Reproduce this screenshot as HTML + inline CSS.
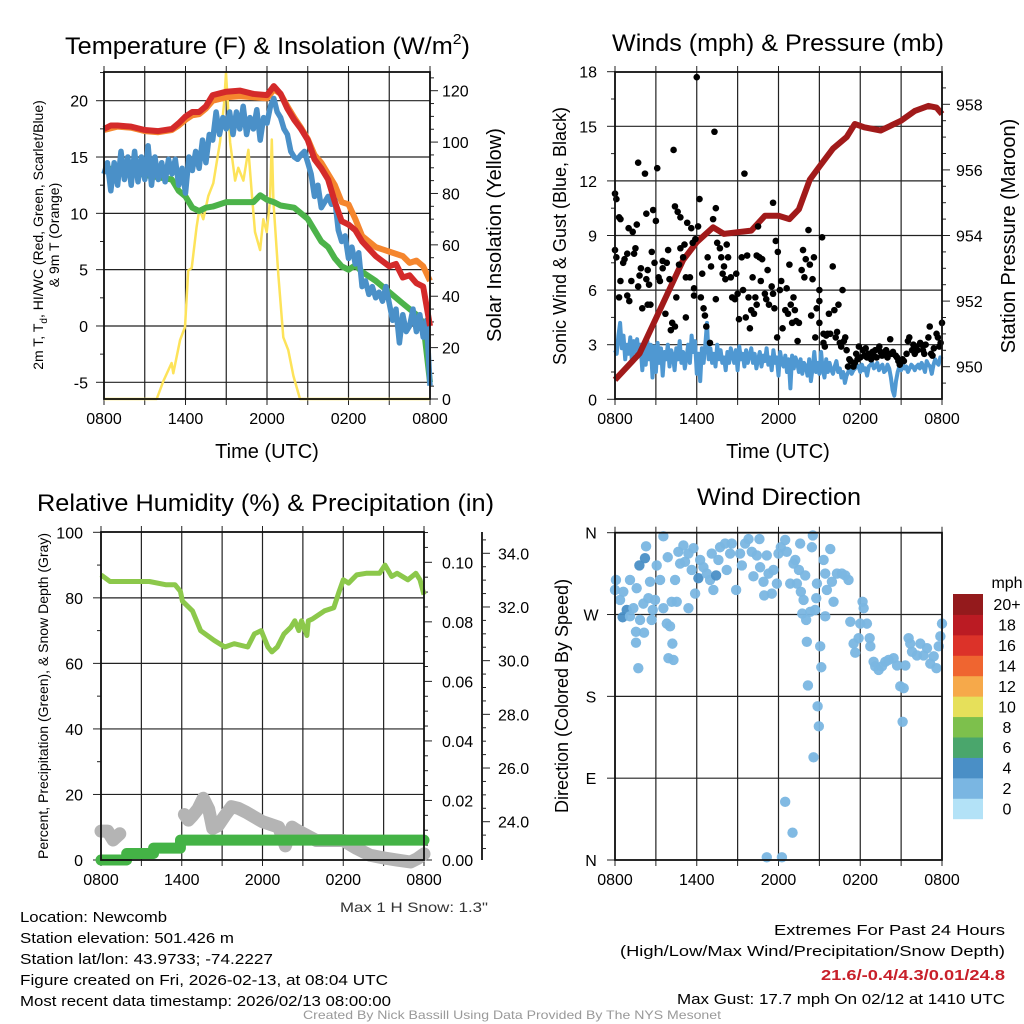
<!DOCTYPE html>
<html><head><meta charset="utf-8">
<style>
html,body{margin:0;padding:0;background:#fff;}
svg{display:block;font-family:"Liberation Sans",Arial,sans-serif;}
</style></head>
<body>
<svg id="fig" width="1024" height="1024" viewBox="0 0 1024 1024" xmlns="http://www.w3.org/2000/svg">
<rect x="0" y="0" width="1024" height="1024" fill="#fff"/>
<g id="p1"></g>
<g id="p2"></g>
<g id="p3"></g>
<g id="p4"></g>
<text x="65" y="54" font-size="24" textLength="405" lengthAdjust="spacingAndGlyphs">Temperature (F) &amp; Insolation (W/m<tspan font-size="15" dy="-10">2</tspan><tspan dy="10">)</tspan></text>
<text x="612" y="51" font-size="24" textLength="332" lengthAdjust="spacingAndGlyphs">Winds (mph) &amp; Pressure (mb)</text>
<text x="37" y="511" font-size="24" textLength="457" lengthAdjust="spacingAndGlyphs">Relative Humidity (%) &amp; Precipitation (in)</text>
<text x="697" y="505" font-size="24" textLength="164" lengthAdjust="spacingAndGlyphs">Wind Direction</text>
<g font-size="15">
<text x="20" y="922" textLength="147" lengthAdjust="spacingAndGlyphs">Location: Newcomb</text>
<text x="20" y="943" textLength="214" lengthAdjust="spacingAndGlyphs">Station elevation: 501.426 m</text>
<text x="20" y="964" textLength="253" lengthAdjust="spacingAndGlyphs">Station lat/lon: 43.9733; -74.2227</text>
<text x="20" y="985" textLength="368" lengthAdjust="spacingAndGlyphs">Figure created on Fri, 2026-02-13, at 08:04 UTC</text>
<text x="20" y="1006" textLength="371" lengthAdjust="spacingAndGlyphs">Most recent data timestamp: 2026/02/13 08:00:00</text>
</g>
<g font-size="15">
<text x="774" y="935" textLength="231" lengthAdjust="spacingAndGlyphs">Extremes For Past 24 Hours</text>
<text x="620" y="956" textLength="385" lengthAdjust="spacingAndGlyphs">(High/Low/Max Wind/Precipitation/Snow Depth)</text>
<text x="821" y="980" font-weight="bold" fill="#c8202a" textLength="184" lengthAdjust="spacingAndGlyphs">21.6/-0.4/4.3/0.01/24.8</text>
<text x="677" y="1004" textLength="328" lengthAdjust="spacingAndGlyphs">Max Gust: 17.7 mph On 02/12 at 1410 UTC</text>
</g>
<text x="340" y="912" font-size="14" fill="#333" textLength="148" lengthAdjust="spacingAndGlyphs">Max 1 H Snow: 1.3"</text>
<text x="303" y="1019" font-size="12" fill="#999" textLength="418" lengthAdjust="spacingAndGlyphs">Created By Nick Bassill Using Data Provided By The NYS Mesonet</text>
</svg>
<script>
// ---------- DATA ----------
const timeTicks = ["0800","1400","2000","0200","0800"];
// Panel 1 (hours since 0800)
const tRed = [0,0.5,1,2,3,4,5,5.5,6,6.5,7,7.5,8,9,10,11,12,12.5,13,13.5,14,14.5,15,15.5,16,16.5,17,17.5,18,18.5,19,20,21,21.5,22,22.5,23,23.5,24];
const tempRed = [17.5,17.8,17.8,17.7,17.4,17.3,17.5,18,18.6,19,19,19.5,20.5,20.8,20.9,20.6,20.5,21.3,20.6,19.3,18.3,17.5,16.5,14.8,14,13,11,9.3,9,8.5,7.5,6.2,5.3,5.5,4.3,4.5,3.8,3.5,0];
const tOrange = [0,1,2,3,4,5,5.5,6,6.5,7,7.5,8,9,10,11,12,12.5,13,13.5,14,14.5,15,15.5,16,16.5,17,17.5,18,18.5,19,20,21,22,22.5,23,23.5,24];
const tempOrange = [17.4,17.7,17.6,17.3,17.2,17.4,17.8,18.3,18.7,18.8,19.3,20,20.3,20.4,20.3,20.2,21,20.6,19.5,18.5,17.6,16.6,15.2,14.5,13.5,12.5,11,10.8,9.5,8,7,6.6,6.2,5.6,5.8,5.3,4];
const tGreen = [0,1,2,3,4,5,5.5,6,6.5,7,7.5,8,9,10,11,11.5,12,12.5,13,14,14.5,15,15.5,16,16.5,17,17.5,18,18.5,19,20,21,22,22.5,23,23.5,24];
const tempGreen = [14,13.9,13.7,13.4,13.2,13,12,11.5,10.5,10.2,10.5,10.6,11,11,11,11.6,11.2,11,10.7,10.5,10,9.5,8.5,7.5,7,6,5.3,5,5.4,4.8,4,3,2,1.5,1,0.3,-5];
const tempBlue = [13.5,14.5,12.0,14.5, 12.5,15.5,13.0,15.0, 12.5,15.5,12.8,15.0, 13.0,16.0,12.5,15.0, 13.0,14.5,12.8,14.8, 13.5,14.8,12.5,14.0,
 11.8,15.0,13.8,15.5, 14.0,16.5,14.5,17.0, 16.5,19.0,17.0,18.5, 17.5,19.0,17.0,19.0, 17.5,19.5,17.0,18.5, 17.5,19.2,16.5,18.5,
 18.0,19.5,20.2,19.0, 18.5,17.5,17.0,15.5, 15.0,14.8,15.2,15.5, 14.5,13.5,11.5,12.5, 10.5,11.0,11.5,10.8, 11.2,8.5,7.5,8.0,
 6.0,7.0,5.5,6.5, 3.5,4.0,2.8,3.5, 2.5,3.0,2.2,3.5, 2.0,0.5,1.5,-1.5, 1.0,-0.5,0.0,1.5, -0.5,1.0,-1.0,0.5, -5.3];
const tSolar = [0,3.88,4.37,4.98,5.1,5.6,5.96,6.2,6.46,6.82,7.02,7.31,7.68,8.05,8.54,8.84,8.98,9.28,9.65,9.89,10.26,10.63,10.88,11.12,11.49,11.73,11.98,12.22,12.35,12.47,12.84,13.2,13.57,13.94,14.43,24];
const solar = [0,0,7,14,10,23,28,50,51,67,74,70,79,84,100,115,127,100,85,90,85,97,80,65,58,70,65,77,101,77,48,24,19,9,0,0];
// Panel 2
const pTime = [0,1.8,3.6,5,6,7.2,8,9,10,11,12,12.8,13.5,14.3,15,16,17,17.6,18.3,19.5,21,22,23,23.6,24];
const pressure = [949.6,950.4,952.0,953.25,953.8,954.25,954.05,954.1,954.15,954.6,954.6,954.5,954.8,955.7,956.1,956.65,957.0,957.4,957.3,957.2,957.5,957.8,957.95,957.9,957.7];
const sonic = [2.7,2.5,3.5,4.2,2.8,3.5,2.2,3.0,2.5,3.4,2.0,3.2,2.6,3.3,2.4,3.0,
1.6,2.8,1.9,3.2,2.2,3.0,1.2,2.9,1.5,3.1,2.0,2.8,1.3,2.6,2.2,3.0,
1.8,2.7,2.4,1.6,2.8,2.2,3.2,2.0,2.6,1.7,2.3,3.0,2.0,3.5,2.6,3.2,
1.4,2.5,1.0,2.8,2.0,3.0,4.2,2.2,2.8,2.0,2.5,1.8,3.0,2.2,2.7,2.0,
2.3,1.6,2.6,2.0,2.8,2.4,2.0,2.7,1.6,2.9,2.2,2.5,1.8,2.7,2.0,2.4,
2.8,2.0,2.5,1.7,2.2,2.6,1.8,2.4,2.1,2.8,1.9,2.3,1.6,2.7,2.0,2.3,
1.3,2.6,2.0,1.8,2.4,1.5,2.2,0.6,2.4,1.7,2.3,2.0,1.5,2.2,1.4,2.0,
1.8,1.3,2.2,1.0,1.7,2.6,1.5,2.0,1.4,2.6,1.6,1.2,2.2,1.5,2.0,1.6,
1.4,1.8,2.1,1.5,1.7,1.2,1.5,0.9,1.3,1.5,1.8,1.4,1.6,1.7,1.9,1.8,
1.5,1.9,1.6,1.7,1.3,1.8,1.9,2.0,1.7,1.8,2.0,1.6,1.8,1.9,1.5,1.6,
1.9,1.7,1.2,0.5,0.2,1.0,1.5,1.8,1.6,1.9,1.7,1.8,1.5,1.7,1.9,1.8,
1.6,1.8,1.9,1.7,2.0,1.8,1.5,2.1,1.9,1.8,1.4,1.9,2.2,2.0,1.9,2.3,2.2];
const gustTime = [0,0.1,0.3,0.4,0,0.1,0.3,0.4,0.6,0.7,0.9,0.9,1.05,1,1.3,1.2,1.4,1.5,1.6,1.7,1.7,1.8,1.9,2,2.2,2.3,2.3,2.4,2.4,2.5,2.6,2.7,2.8,2.9,3,3.1,3.2,3.3,3.5,3.5,3.7,3.8,3.9,4,4.1,4.2,4.3,4.4,4.4,4.5,4.6,4.7,4.8,4.8,5,5.1,5.2,5.2,5.3,5.5,5.6,5.7,5.8,5.8,5.9,6,6.1,6.2,6.3,6.4,6.5,6.6,6.7,6.8,6.97,7.05,7.2,7.3,7.4,7.4,7.5,7.7,7.8,7.9,8,8.1,8.2,8.3,8.5,8.6,8.8,8.9,9,9.1,9.3,9.4,9.5,9.6,9.7,9.8,9.9,10,10.1,10.2,10.3,10.4,10.4,10.5,10.6,10.7,10.8,11,11.1,11.2,11.3,11.5,11.6,11.6,11.7,11.8,11.9,11.95,12.1,12.2,12.3,12.5,12.6,12.7,12.8,12.9,13,13.1,13.2,13.3,13.4,13.5,13.7,13.8,13.9,14,14.2,14.3,14.4,14.5,14.6,14.7,14.8,15,15,15,15.2,15.3,15.3,15.4,15.5,15.6,15.7,15.8,15.98,16.1,16.2,16.3,16.4,16.5,16.6,16.7,16.8,16.9,17,17.1,17.2,17.3,17.5,17.6,17.7,17.8,17.9,18,18.2,18.3,18.4,18.5,18.6,18.8,18.9,19,19.1,19.2,19.4,19.5,19.6,19.7,19.9,20,20.1,20.2,20.3,20.4,20.6,20.7,20.8,20.9,21.1,21.2,21.4,21.5,21.6,21.8,21.9,22,22.1,22.2,22.4,22.5,22.6,22.7,22.8,23,23.1,23.2,23.3,23.4,23.6,23.7,23.8,23.9,24];
const gust = [11.3,11,10,9.9,8.2,7.8,5.6,6.5,7.5,7.7,8,5.7,5.4,9.4,9.2,6.5,8,8.3,9.6,6.2,13,6.8,7.2,5,12.4,10.2,6.6,5.2,7.1,6.3,5.2,8.1,10.4,7.5,9.8,12.7,6.7,6.5,7.2,7.6,4.7,7.5,8.2,6.6,3.8,4.2,13.7,10.6,4,5.6,10.3,7.4,8.3,10,7.8,8.5,6.7,4.5,9.7,6.7,9.4,8.6,5.7,6.1,8.8,17.7,9.5,11,5.6,6.9,5,4.6,4,7.8,3.1,7.3,9.9,14.7,10.5,5.5,8.6,8.3,7.8,6.9,7.3,6.6,8.5,7.8,6.7,5.6,5.5,6.9,5.8,4.4,7.8,6,12.4,4.5,7.9,5.6,3.9,4.9,6.7,4.7,5.6,7.9,5.2,9.5,7.8,6.5,7.7,5.8,5.5,7.1,5.2,6.2,5.8,10.8,5,8.7,3.4,8.1,6,6.5,3.9,4.9,6.1,4.7,7.4,5.2,4.2,5.6,4.9,4.3,3.2,4.2,7.1,8.2,6.7,7.7,9.3,7.4,4.6,6.6,7.8,3.4,5,5.4,4.2,6,8.9,3.6,3.1,2.9,3.5,3.6,4.7,3.6,7.3,4.9,3.4,3.7,5.2,3.1,2.9,6,3.2,3.4,2.7,1.8,2.2,2.1,1.8,2,2.5,2.2,2.9,2.3,2.7,2.4,2.8,2.3,2.5,2.2,2.6,2.4,2.7,2.3,2.9,2.6,2.4,2.5,2.7,2.3,2.5,3.3,2.5,2.6,2.4,2.3,2.1,1.9,2.2,2.1,2.5,3.2,3.4,2.7,3,2.5,2.9,2.7,3.1,3,2.7,2.5,3,3.4,4,2.5,2.4,2.8,3.6,3.4,2.9,3.1,4.2];
// Panel 3
const rhTime = [0,0.67,2.4,3.6,4.8,5.5,5.9,6.05,6.8,7.4,8.4,9.2,9.9,10.9,11.4,11.9,12.4,12.7,13.1,13.6,14.1,14.4,14.7,14.9,15.3,15.4,15.7,16.6,17.3,17.7,18.0,18.4,19.0,19.7,20.7,21.1,21.6,22.0,22.8,23.4,23.7,24];
const rh = [87,85,85,85,84,84,82,79,76,70,67,65,66,65,69,70,65,63.5,65,69,71,73,70,73,68.5,73,73.5,76,77,82,85.5,84.5,87,87.5,87.5,90,86.5,87.5,85.5,87.5,85.5,81];
const precipTime = [0,1.9,1.91,3.9,3.91,5.9,5.91,24];
const precip = [0,0,0.0022,0.0022,0.004,0.004,0.0067,0.0067];
const snowTimeA = [0,0.5,0.9,1.4];
const snowA = [23.65,23.65,23.32,23.55];
const snowTimeB = [6.2,6.5,6.8,7.2,7.6,8.0,8.3,8.7,9.2,9.7,10.2,10.8,11.3,12,12.6,13.2,13.7,14.2,14.5,16,18,19,20,21,22,23,23.5,24];
const snowB = [24.27,24.06,24.22,24.47,24.87,24.47,23.75,23.85,24.22,24.56,24.5,24.35,24.2,24.0,23.9,23.8,23.1,23.8,23.7,23.3,23.3,23.0,22.75,22.65,22.57,22.5,22.62,22.8];
// Panel 4
const dirTime = [0,0.07,0.37,0.61,0.86,0.56,1.10,1.35,1.10,1.59,1.84,2.08,2.45,2.57,2.69,1.54,1.71,1.54,2.13,2.28,2.20,1.79,2.77,2.94,3.06,3.31,3.55,3.55,3.80,4.04,3.87,4.16,4.41,4.53,4.21,3.92,4.29,4.65,5.02,4.78,5.14,5.39,5.39,5.63,5.76,5.88,6.12,6.25,6.49,6.74,7.10,6.98,7.22,7.42,7.59,7.71,8.08,8.20,8.45,8.57,8.89,9.18,9.31,9.55,9.80,10.04,10.16,10.41,10.60,10.65,10.90,10.95,11.14,11.27,11.51,11.63,11.88,12.00,12.17,12.49,12.61,12.86,13.10,13.23,13.35,13.50,13.59,13.64,13.84,13.96,13.74,14.08,14.03,14.33,14.45,14.52,14.16,14.69,14.82,14.77,14.87,14.96,15.06,15.14,14.57,15.31,15.43,15.43,15.55,15.80,15.92,16.04,16.29,16.65,16.90,17.14,17.27,17.51,17.63,17.88,18.00,18.17,18.25,18.49,18.69,18.74,18.98,19.10,19.35,19.59,19.84,20.08,20.45,20.70,20.94,21.19,21.11,21.31,21.55,21.67,21.80,22.16,22.41,22.65,22.90,23.14,23.39,23.59,23.76,23.88,24.0,12.49,13.03,11.14,12.25];
const dirDeg = [297,308,286,295,275,267,268,277,308,299,264,282,288,306,264,251,211,239,250,345,332,324,275,286,324,308,356,277,260,257,333,284,308,284,238,222,220,339,346,326,328,277,337,319,343,293,310,330,322,315,337,308,297,313,330,344,348,319,337,348,297,337,324,348,353,339,312,335,353,322,306,291,335,315,293,319,304,337,344,352,339,304,326,330,304,319,348,295,286,313,271,240,264,273,344,357,192,275,304,288,169,147,235,212,113,330,315,268,297,342,306,284,315,315,313,308,262,238,228,244,260,284,277,260,244,235,218,213,209,213,218,220,222,214,191,189,152,214,244,238,229,225,238,225,233,216,224,211,235,246,260,64,30,3,3];
const dirSpeed = [2.5,2.5,2.5,2.5,4,4,2.5,2.5,2.5,2.5,2.5,2.5,2.5,2.5,2.5,2.5,2.5,1,2.5,2.5,4,4,2.5,2.5,2.5,1,2.5,2.5,2.5,2.5,2.5,2.5,2.5,2.5,1,2.5,2.5,2.5,2.5,2.5,2.5,1,2.5,2.5,2.5,2.5,4,2.5,2.5,2.5,1,2.5,2.5,4,2.5,2.5,2.5,2.5,2.5,2.5,2.5,2.5,2.5,2.5,2.5,2.5,2.5,2.5,2.5,2.5,2.5,2.5,2.5,2.5,2.5,2.5,2.5,2.5,2.5,2.5,2.5,2.5,2.5,2.5,2.5,2.5,1,2.5,1,1,2.5,2.5,2.5,2.5,2.5,1,1,2.5,1,1,2.5,1,2.5,2.5,1,2.5,2.5,2.5,2.5,1,2.5,2.5,2.5,2.5,2.5,2.5,1,1,1,2.5,2.5,2.5,2.5,2.5,2.5,1,2.5,2.5,2.5,2.5,2.5,2.5,2.5,2.5,2.5,1,1,1,2.5,2.5,2.5,2.5,2.5,2.5,2.5,2.5,2.5,2.5,2.5,2.5,2.5,2.5,2.5,2.5,2.5,2.5,2.5,2.5];
const cbLabels = ["0","2","4","6","8","10","12","14","16","18","20+"];
const cbColors = ["#b3e2f7","#7ab6e2","#4a8fc6","#4aa66c","#7dc04c","#e6e05a","#f6a94a","#ef6530","#dc3229","#bb1b23","#941a1c"];

// ---------- HELPERS ----------
const NS = "http://www.w3.org/2000/svg";
function mk(parent, tag, attrs, text){
  const e = document.createElementNS(NS, tag);
  for (const k in attrs) e.setAttribute(k, attrs[k]);
  if (text !== undefined) e.textContent = text;
  parent.appendChild(e);
  return e;
}
function lin(d0,d1,r0,r1){ return v => r0 + (v-d0)/(d1-d0)*(r1-r0); }
function pathFrom(xs, ys, fx, fy){
  return xs.map((t,i)=>(i?"L":"M")+fx(t).toFixed(1)+" "+fy(ys[i]).toFixed(1)).join(" ");
}
function frame(g, L, R, T, B, fx, hGridVals, fy){
  for (let h=0; h<=24; h+=3){
    const x = fx(h);
    const gl = mk(g,"line",{x1:x,y1:T,x2:x,y2:B,stroke:"#222","stroke-width":1.2});
    
    
    mk(g,"line",{x1:x,y1:T-6,x2:x,y2:T,stroke:"#222","stroke-width":1});
    mk(g,"line",{x1:x,y1:B,x2:x,y2:B+6,stroke:"#222","stroke-width":1});
  }
  hGridVals.forEach(v=>{
    const y = fy(v);
    const hl = mk(g,"line",{x1:L,y1:y,x2:R,y2:y,stroke:"#222","stroke-width":1.2});
    
    
  });
}
function border(g,L,R,T,B){
  const r = mk(g,"rect",{x:L,y:T,width:R-L,height:B-T,fill:"none",stroke:"#111","stroke-width":1.8});
  
  
}
function xLabels(g, fx, y){
  timeTicks.forEach((s,i)=>{
    const t = mk(g,"text",{x:fx(i*6),y:y,"text-anchor":"middle","font-size":16},s);
    
    
  });
}
function vtext(g, x, y, txt, size, name){
  const t = mk(g,"text",{x:0,y:0,"text-anchor":"middle","font-size":size,transform:`translate(${x},${y}) rotate(-90)`},txt);
  
  
  return t;
}

// ---------- PANEL 1 ----------
(function(){
  const g = document.getElementById("p1");
  const L=104,R=430,T=72,B=399;
  const fx = lin(0,24,L,R);
  const fy = lin(-5,20,382.3,100.7);
  const fs = lin(0,120,399,90.7);
  frame(g,L,R,T,B,fx,[20,15,10,5,0,-5],fy);
  for (let v=-5; v<=22.5; v+=2.5){
    const y=fy(v); const major = (v%5===0);
    mk(g,"line",{x1:L-(major?8:4),y1:y,x2:L,y2:y,stroke:"#222","stroke-width":1});
    if (major){
      const t = mk(g,"text",{x:L-16,y:y+6,"text-anchor":"end","font-size":16},String(v));
      
      
    }
  }
  for (let v=0; v<=125; v+=5){
    const y=fs(v); const major=(v%20===0);
    mk(g,"line",{x1:R,y1:y,x2:R+(major?8:4),y2:y,stroke:"#222","stroke-width":1});
    if (major){
      const t = mk(g,"text",{x:R+12,y:y+6,"font-size":16},String(v));
      
      
    }
  }
  const tBlue = tempBlue.map((v,i)=>i*24/(tempBlue.length-1));
  const sSolar = mk(g,"path",{d:pathFrom(tSolar,solar,fx,fs),fill:"none",stroke:"#fde35a","stroke-width":2.5,"stroke-linejoin":"round"});
  
  
  const sG = mk(g,"path",{d:pathFrom(tGreen,tempGreen,fx,fy),fill:"none",stroke:"#4cb34a","stroke-width":6,"stroke-linejoin":"round"});
  
  
  const sO = mk(g,"path",{d:pathFrom(tOrange,tempOrange,fx,fy),fill:"none",stroke:"#f5862e","stroke-width":6,"stroke-linejoin":"round"});
  
  
  const sB = mk(g,"path",{d:pathFrom(tBlue,tempBlue,fx,fy),fill:"none",stroke:"#4a90c8","stroke-width":5.5,"stroke-linejoin":"round"});
  
  
  const sR = mk(g,"path",{d:pathFrom(tRed,tempRed,fx,fy),fill:"none",stroke:"#d42a2a","stroke-width":6,"stroke-linejoin":"round"});
  
  
  border(g,L,R,T,B);
  xLabels(g,fx,424);
  const xt = mk(g,"text",{x:267,y:458,"text-anchor":"middle","font-size":20},"Time (UTC)");
  
  
  const yl = mk(g,"text",{x:0,y:0,"text-anchor":"middle","font-size":14,transform:"translate(43,235) rotate(-90)"});
  
  
  yl.innerHTML = '2m T, T<tspan font-size="10" dy="4">d</tspan><tspan dy="-4">, HI/WC (Red, Green, Scarlet/Blue)</tspan>';
  vtext(g,59,235,"& 9m T (Orange)",14,"y-axis-title-line2");
  vtext(g,501,235,"Solar Insolation (Yellow)",20,"right-axis-title");
})();

// ---------- PANEL 2 ----------
(function(){
  const g = document.getElementById("p2");
  const L=615,R=942,T=72,B=399;
  const fx = lin(0,24,L,R);
  const fy = lin(0,18,399.3,71.7);
  const fp = lin(950,958,366.7,104.3);
  frame(g,L,R,T,B,fx,[3,6,9,12,15],fy);
  for (let v=0; v<=18; v+=1.5){
    const y=fy(v); const major=(v%3===0);
    mk(g,"line",{x1:L-(major?8:4),y1:y,x2:L,y2:y,stroke:"#222","stroke-width":1});
    if (major){
      const t = mk(g,"text",{x:L-18,y:y+6,"text-anchor":"end","font-size":16},String(v));
      
      
    }
  }
  for (let v=949; v<=959; v+=0.5){
    const y=fp(v); if (y<T||y>B) continue; const major=(v%2===0);
    mk(g,"line",{x1:R,y1:y,x2:R+(major?8:4),y2:y,stroke:"#222","stroke-width":1});
    if (major){
      const t = mk(g,"text",{x:R+14,y:y+6,"font-size":16},String(v));
      
      
    }
  }
  const tSonic = sonic.map((v,i)=>i*24/(sonic.length-1));
  const sl = mk(g,"path",{d:pathFrom(tSonic,sonic,fx,fy),fill:"none",stroke:"#4f98d2","stroke-width":4,"stroke-linejoin":"round"});
  
  
  const pl = mk(g,"path",{d:pathFrom(pTime,pressure,fx,fp),fill:"none",stroke:"#a11a1a","stroke-width":6,"stroke-linejoin":"round"});
  
  
  gust.forEach((v,i)=>{
    const c = mk(g,"circle",{cx:fx(gustTime[i]),cy:fy(v),r:3.3,fill:"#000"});
    
    
  });
  border(g,L,R,T,B);
  xLabels(g,fx,424);
  const xt = mk(g,"text",{x:778,y:458,"text-anchor":"middle","font-size":20},"Time (UTC)");
  
  
  vtext(g,566,236,"Sonic Wind & Gust (Blue, Black)",18,"y-axis-title");
  vtext(g,1015,236,"Station Pressure (Maroon)",20,"right-axis-title");
})();

// ---------- PANEL 3 ----------
(function(){
  const g = document.getElementById("p3");
  const L=101,R=424,T=532,B=860;
  const fx = lin(0,24,L,R);
  const fy = lin(0,100,860,532.3);
  const fpr = lin(0,0.1,860,562.3);
  const fsd = lin(24,34,821.7,553.3);
  frame(g,L,R,T,B,fx,[20,40,60,80],fy);
  for (let v=0; v<=100; v+=10){
    const y=fy(v); const major=(v%20===0);
    mk(g,"line",{x1:L-(major?8:4),y1:y,x2:L,y2:y,stroke:"#222","stroke-width":1});
    if (major){
      const t = mk(g,"text",{x:L-18,y:y+6,"text-anchor":"end","font-size":16},String(v));
      
      
    }
  }
  for (let i=0; i<=22; i++){
    const v=i*0.005; const y=fpr(v); if (y<T) continue; const major=(i%4===0);
    mk(g,"line",{x1:R,y1:y,x2:R+(major?8:4),y2:y,stroke:"#222","stroke-width":1});
    if (major){
      const t = mk(g,"text",{x:R+18,y:y+6,"font-size":16},v.toFixed(2));
      
      
    }
  }
  const ax = mk(g,"line",{x1:482,y1:532,x2:482,y2:860,stroke:"#111","stroke-width":1.8});
  
  
  for (let i=0; i<=25; i++){
    const v=22.5+i*0.5; const y=fsd(v); if (y<T||y>B) continue; const major=(Math.abs(v%2)<1e-6);
    mk(g,"line",{x1:482,y1:y,x2:482+(major?8:4),y2:y,stroke:"#222","stroke-width":1});
    if (major){
      const t = mk(g,"text",{x:498,y:y+6,"font-size":16},v.toFixed(1));
      
      
    }
  }
  [ [snowTimeA,snowA,'snow-depth-line-a'], [snowTimeB,snowB,'snow-depth-line-b'] ].forEach(s=>{
    const p = mk(g,"path",{d:pathFrom(s[0],s[1],fx,fsd),fill:"none",stroke:"#b4b4b4","stroke-width":13,"stroke-linejoin":"round","stroke-linecap":"round"});
    
    
  });
  const pp = mk(g,"path",{d:pathFrom(precipTime,precip,fx,fpr),fill:"none",stroke:"#44b346","stroke-width":11,"stroke-linejoin":"round","stroke-linecap":"round"});
  
  
  const rl = mk(g,"path",{d:pathFrom(rhTime,rh,fx,fy),fill:"none",stroke:"#8cc84b","stroke-width":5,"stroke-linejoin":"round"});
  
  
  border(g,L,R,T,B);
  xLabels(g,fx,885);
  vtext(g,48,696,"Percent, Precipitation (Green), & Snow Depth (Gray)",14,"y-axis-title");
})();

// ---------- PANEL 4 ----------
(function(){
  const g = document.getElementById("p4");
  const L=615,R=942,T=532.7,B=860;
  const fx = lin(0,24,L,R);
  const fy = lin(0,360,860,532.7);
  frame(g,L,R,T,B,fx,[90,180,270,360],fy);
  ["N","E","S","W","N"].forEach((s,i)=>{
    const y = fy(i*90);
    mk(g,"line",{x1:L-8,y1:y,x2:L,y2:y,stroke:"#222","stroke-width":1});
    const t = mk(g,"text",{x:L-24,y:y+6,"text-anchor":"middle","font-size":16},s);
    
    
  });
  function col(sp){ const k=Math.max(0,Math.min(10,Math.floor((sp+1)/2))); return cbColors[k]; }
  dirDeg.forEach((d,i)=>{
    const c = mk(g,"circle",{cx:fx(dirTime[i]),cy:fy(d),r:5.2,fill:col(dirSpeed[i]),"fill-opacity":0.95});
    
    
  });
  border(g,L,R,T,B);
  xLabels(g,fx,885);
  vtext(g,568,696,"Direction (Colored By Speed)",18,"y-axis-title");
  const cbTop=594, cbH=224.7, n=cbColors.length, h=cbH/n;
  cbColors.forEach((c,i)=>{
    const y = cbTop + (n-1-i)*h;
    const r = mk(g,"rect",{x:953,y:y,width:30,height:h+0.5,fill:c});
    
    
    const t = mk(g,"text",{x:1007,y:y+h/2+6,"text-anchor":"middle","font-size":16},cbLabels[i]);
    
    
  });
  const u = mk(g,"text",{x:1007,y:588,"text-anchor":"middle","font-size":16},"mph");
  
  
})();
</script>
</body></html>
